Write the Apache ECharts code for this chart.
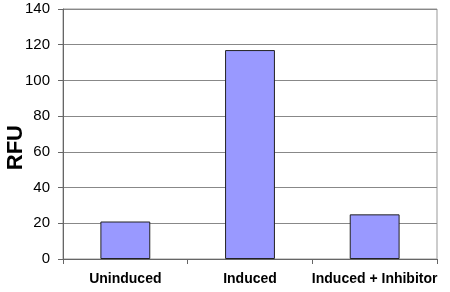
<!DOCTYPE html>
<html><head><meta charset="utf-8">
<script src="https://cdn.jsdelivr.net/npm/echarts@6/dist/echarts.min.js"></script>
<style>html,body{margin:0;padding:0;background:#fff}#c{width:450px;height:292px}</style>
</head><body><div id="c"></div>
<script>
const categories = ['Uninduced', 'Induced', 'Induced + Inhibitor'];
const rfuValues = [21, 117, 25];
const yTicks = [0, 20, 40, 60, 80, 100, 120, 140];
const yTitle = 'RFU';

const FONT = 'Liberation Sans, Arial, sans-serif';
const chart = echarts.init(document.getElementById('c'), null, {renderer: 'canvas'});
chart.setOption({
  animation: false,
  grid: {left: 63, right: 13, top: 9, bottom: 33, show: true, borderColor: '#999', borderWidth: 1, backgroundColor: 'transparent'},
  graphic: [{
    type: 'text', left: 5, top: 125, rotation: Math.PI / 2,
    style: {text: yTitle, fill: '#000', font: 'bold 22px ' + FONT}
  }],
  xAxis: {
    type: 'category', data: categories,
    axisLine: {lineStyle: {color: '#666', width: 1}},
    axisTick: {show: true, length: 5, lineStyle: {color: '#666'}},
    axisLabel: {interval: 0, color: '#000', fontFamily: FONT, fontSize: 14, fontWeight: 'bold', margin: 13}
  },
  yAxis: {
    type: 'value', min: yTicks[0], max: yTicks[yTicks.length - 1], interval: 20,
    axisLine: {show: true, lineStyle: {color: '#666', width: 1}},
    axisTick: {show: true, length: 5, lineStyle: {color: '#666'}},
    splitLine: {lineStyle: {color: '#888', width: 1}},
    axisLabel: {color: '#000', fontFamily: FONT, fontSize: 15, margin: 13}
  },
  series: [{
    type: 'bar', data: rfuValues, barWidth: '40%',
    itemStyle: {color: '#9999FF', borderColor: '#222', borderWidth: 1}
  }]
});
</script></body></html>
